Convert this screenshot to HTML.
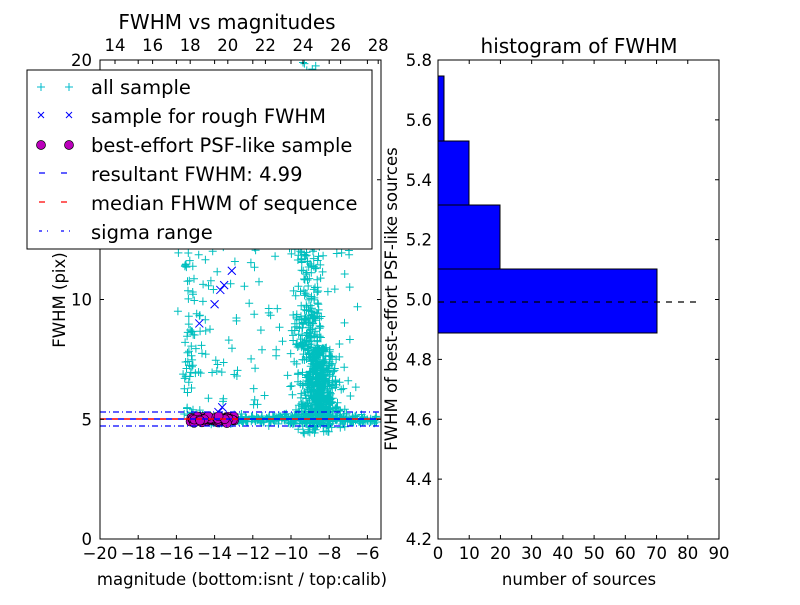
<!DOCTYPE html>
<html><head><meta charset="utf-8"><style>
body{margin:0;background:#fff}
svg{font-family:"DejaVu Sans","Liberation Sans",sans-serif}
</style></head><body>
<svg id="s" width="800" height="600" xmlns="http://www.w3.org/2000/svg">
<rect width="800" height="600" fill="#fff"/>
<defs><clipPath id="c1"><rect x="100" y="60" width="281" height="479"/></clipPath></defs>
<g id="pts" clip-path="url(#c1)"></g>
<g clip-path="url(#c1)">
<line x1="100" x2="381" y1="412" y2="412" stroke="#00f" stroke-width="1.2" stroke-dasharray="6,3,1,3"/>
<line x1="100" x2="381" y1="426" y2="426" stroke="#00f" stroke-width="1.2" stroke-dasharray="6,3,1,3"/>
<line x1="100" x2="381" y1="419" y2="419" stroke="#f00" stroke-width="1.5" stroke-dasharray="6,6"/>
<line x1="106" x2="381" y1="419" y2="419" stroke="#00f" stroke-width="1.5" stroke-dasharray="6,6"/>
</g>
<rect x="100" y="60" width="281" height="479" fill="none" stroke="#000"/>
<g id="ax" stroke="#000"></g>
<g font-size="16.5" text-anchor="middle" id="lbl"></g>
<text x="227" y="29" font-size="20" text-anchor="middle">FWHM vs magnitudes</text>
<text x="242" y="585" font-size="16.5" text-anchor="middle">magnitude (bottom:isnt / top:calib)</text>
<text transform="translate(65,300) rotate(-90)" font-size="16.5" text-anchor="middle">FWHM (pix)</text>
<rect x="27" y="70" width="345" height="179" fill="#fff" stroke="#000"/>
<g font-size="19.5">
<text x="91" y="94">all sample</text>
<text x="91" y="123">sample for rough FWHM</text>
<text x="91" y="152">best-effort PSF-like sample</text>
<text x="91" y="181">resultant FWHM: 4.99</text>
<text x="91" y="210">median FHWM of sequence</text>
<text x="91" y="239">sigma range</text>
</g>
<g stroke="#0bc" stroke-width="1"><path d="M37 87h8M41 83v8M65 87h8M69 83v8"/></g>
<g stroke="#00f" stroke-width="1"><path d="M38 112l6 6M44 112l-6 6M66 112l6 6M72 112l-6 6"/></g>
<circle cx="41" cy="145" r="4.5" fill="#b0b" stroke="#000" stroke-width=".7"/><circle cx="69" cy="145" r="4.5" fill="#b0b" stroke="#000" stroke-width=".7"/>
<path d="M39 173h6M61 173h6" stroke="#00f" stroke-width="1.3"/>
<path d="M39 202h6M61 202h6" stroke="#f00" stroke-width="1.3"/>
<path d="M39 231h3M47 231h1M61 231h3M69 231h1" stroke="#00f" stroke-width="1.3"/>
<rect x="438" y="269" width="219" height="64" fill="#00f" stroke="#000"/>
<rect x="438" y="205" width="62" height="64" fill="#00f" stroke="#000"/>
<rect x="438" y="141" width="31" height="64" fill="#00f" stroke="#000"/>
<rect x="438" y="76" width="6" height="65" fill="#00f" stroke="#000"/>
<line x1="438" x2="697" y1="302" y2="302" stroke="#000" stroke-width="1.3" stroke-dasharray="6,6"/>
<rect x="438" y="60" width="281" height="479" fill="none" stroke="#000"/>
<text x="579" y="53" font-size="20" text-anchor="middle">histogram of FWHM</text>
<text x="579" y="585" font-size="16.5" text-anchor="middle">number of sources</text>
<text transform="translate(397,299) rotate(-90)" font-size="16.5" text-anchor="middle">FWHM of best-effort PSF-like sources</text>
</svg>
<script>
var NS="http://www.w3.org/2000/svg";
var ax=document.getElementById('ax'),lb=document.getElementById('lbl'),P=document.getElementById('pts');
function el(p,t,a,tx){var e=document.createElementNS(NS,t);for(var k in a)e.setAttribute(k,a[k]);if(tx!=null)e.textContent=tx;p.appendChild(e);return e;}
function X(m){return 100+(m+20)*19.1}function Y(f){return 539-f*23.95}
for(var m=-20;m<=-6;m+=2){var x=X(m);el(ax,'line',{x1:x,x2:x,y1:539,y2:535});el(ax,'line',{x1:x,x2:x,y1:60,y2:64});el(lb,'text',{x:x,y:559},'\u2212'+(-m));}
for(var t=14;t<=28;t+=2){var x=115+(t-14)*18.8;el(ax,'line',{x1:x,x2:x,y1:60,y2:64});el(lb,'text',{x:x,y:51},t);}
for(var f=0;f<=20;f+=5){var y=Y(f);el(ax,'line',{x1:100,x2:104,y1:y,y2:y});el(ax,'line',{x1:381,x2:377,y1:y,y2:y});el(lb,'text',{x:92,y:y+6,'text-anchor':'end'},f);}
for(var n=0;n<=90;n+=10){var x=438+n*3.122;el(ax,'line',{x1:x,x2:x,y1:539,y2:535});el(ax,'line',{x1:x,x2:x,y1:60,y2:64});el(lb,'text',{x:x,y:559},n);}
for(var i=0;i<=8;i++){var v=4.2+i*0.2,y=539-i*59.875;el(ax,'line',{x1:438,x2:442,y1:y,y2:y});el(ax,'line',{x1:719,x2:715,y1:y,y2:y});el(lb,'text',{x:432,y:y+6,'text-anchor':'end'},v.toFixed(1));}
var sd=7;function r(){sd=(sd*16807)%2147483647;return sd/2147483647}
function g(){return (r()+r()+r()+r()-2)*0.87}
var d='';function plus(x,y){d+='M'+(x-4).toFixed(1)+' '+y.toFixed(1)+'h8M'+x.toFixed(1)+' '+(y-4).toFixed(1)+'v8';}
var i;
for(i=0;i<700;i++){var f=5+Math.abs(g())*4+(r()<0.35?r()*11:0);var m=-8.9+g()*0.8+(f<8?0.3:-0.2);plus(X(m),Y(f));}
for(i=0;i<350;i++){var m=-15+r()*9.5;plus(X(m),Y(5+g()*0.2));}
for(i=0;i<120;i++){plus(X(-8.5+g()*1.4),Y(4.4+r()*2.2));}
for(i=0;i<180;i++){plus(X(-16+r()*9.5),Y(5+r()*10));}
for(i=0;i<45;i++){plus(X(-15.3+g()*0.3),Y(5+r()*7));}
for(i=0;i<60;i++){plus(X(-9.5+g()*0.7),Y(12+r()*8));}
el(P,'path',{d:d,stroke:'#00bfbf','stroke-width':1,fill:'none'});
var dx='';[[-13.1,11.2],[-14,9.8],[-13.7,10.4],[-13.5,10.6],[-14.8,9],[-13.6,5.5],[-13.8,5.3]].forEach(function(p){var x=X(p[0]),y=Y(p[1]);dx+='M'+(x-4)+' '+(y-4)+'l8 8M'+(x+4)+' '+(y-4)+'l-8 8';});
el(P,'path',{d:dx,stroke:'#00f','stroke-width':1,fill:'none'});
for(i=0;i<90;i++){el(P,'circle',{cx:X(-15.3+r()*2.4),cy:Y(5+g()*0.12),r:4.5,fill:'#bf00bf',stroke:'#000','stroke-width':0.6});}
</script>
</body></html>
